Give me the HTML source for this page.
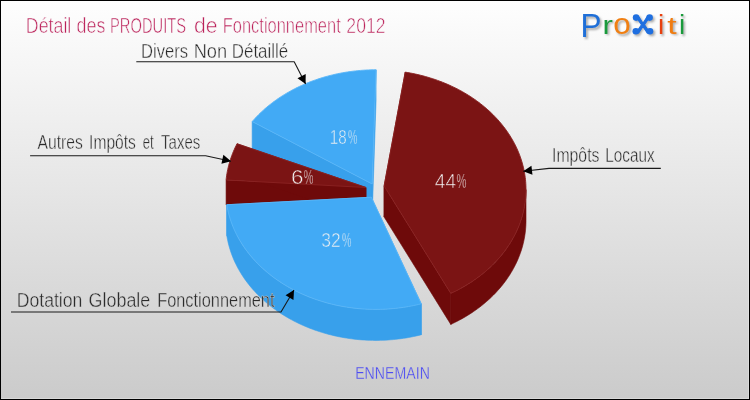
<!DOCTYPE html>
<html><head><meta charset="utf-8"><title>Détail des PRODUITS de Fonctionnement 2012</title>
<style>
html,body{margin:0;padding:0;background:#fff;}
body{width:750px;height:400px;overflow:hidden;}
#chart{position:relative;width:748px;height:398px;border:1px solid #000;background:linear-gradient(to bottom,#fefefe 0%,#cbcbcb 100%);overflow:hidden;box-shadow:inset -1px -1px 0 rgba(255,255,255,.25);}
svg{position:absolute;left:-1px;top:-1px;font-family:"Liberation Sans", sans-serif;}
</style></head><body>
<div id="chart">
<svg width="750" height="400" viewBox="0 0 750 400">
<g id="pie">
<path d="M372.2 184 L252.16 121.57 L252.16 152.57 L372.2 215Z" fill="#38a0eb" stroke="#38a0eb" stroke-width="0.6" stroke-linejoin="round" />
<path d="M372.2 184 L376.06 69.8 L376.06 100.8 L372.2 215Z" fill="#38a0eb" stroke="#38a0eb" stroke-width="0.6" stroke-linejoin="round" />
<path d="M372.2 184 L252.16 121.57 L253.66 119.88 L255.19 118.2 L256.76 116.55 L258.36 114.92 L259.99 113.31 L261.67 111.72 L263.37 110.16 L265.11 108.62 L266.88 107.11 L268.69 105.62 L270.53 104.15 L272.4 102.71 L274.3 101.3 L276.23 99.91 L278.19 98.55 L280.17 97.22 L282.19 95.91 L284.24 94.63 L286.31 93.38 L288.41 92.16 L290.54 90.97 L292.69 89.81 L294.86 88.68 L297.07 87.58 L299.29 86.51 L301.54 85.47 L303.81 84.46 L306.1 83.48 L308.41 82.54 L310.74 81.62 L313.09 80.74 L315.46 79.89 L317.85 79.08 L320.26 78.29 L322.68 77.54 L325.12 76.83 L327.57 76.14 L330.04 75.5 L332.52 74.88 L335.01 74.3 L337.52 73.76 L340.04 73.25 L342.56 72.77 L345.1 72.33 L347.65 71.92 L350.21 71.55 L352.77 71.22 L355.34 70.92 L357.92 70.65 L360.5 70.42 L363.09 70.23 L365.68 70.07 L368.27 69.95 L370.87 69.86 L373.46 69.81 L376.06 69.8Z" fill="#42aaf5" stroke="#5ab7f8" stroke-width="0.9" stroke-linejoin="round" />
<path d="M366 187.5 L226.08 179.99 L226.08 205 L366 218.5Z" fill="#6e0a0a" stroke="#6e0a0a" stroke-width="0.6" stroke-linejoin="round" />
<path d="M366 187.5 L237.03 143.75 L237.03 174.75 L366 218.5Z" fill="#6e0a0a" stroke="#6e0a0a" stroke-width="0.6" stroke-linejoin="round" />
<path d="M366 187.5 L226.08 179.99 L226.32 177.92 L226.59 175.85 L226.91 173.79 L227.28 171.73 L227.69 169.68 L228.15 167.63 L228.65 165.59 L229.19 163.56 L229.78 161.53 L230.41 159.51 L231.09 157.51 L231.81 155.51 L232.57 153.52 L233.38 151.54 L234.23 149.58 L235.12 147.62 L236.06 145.68 L237.03 143.75Z" fill="#7b1414" stroke="#8a2323" stroke-width="0.9" stroke-linejoin="round" />
<path d="M384.1 186 L405.23 72.12 L405.23 103.12 L384.1 217Z" fill="#6e0a0a" stroke="#6e0a0a" stroke-width="0.6" stroke-linejoin="round" />
<path d="M384.1 186 L450.79 293.4 L450.79 324.4 L384.1 217Z" fill="#6e0a0a" stroke="#6e0a0a" stroke-width="0.6" stroke-linejoin="round" />
<path d="M526 189.6 L525.98 191.66 L525.91 193.72 L525.8 195.77 L525.65 197.83 L525.45 199.88 L525.2 201.93 L524.91 203.97 L524.58 206.01 L524.21 208.05 L523.79 210.08 L523.33 212.11 L522.82 214.13 L522.27 216.14 L521.68 218.14 L521.04 220.13 L520.36 222.12 L519.64 224.1 L518.87 226.06 L518.07 228.02 L517.22 229.96 L516.33 231.89 L515.4 233.81 L514.42 235.72 L513.41 237.61 L512.36 239.49 L511.26 241.35 L510.13 243.2 L508.95 245.04 L507.74 246.85 L506.49 248.65 L505.19 250.43 L503.86 252.2 L502.5 253.94 L501.09 255.67 L499.65 257.38 L498.17 259.06 L496.66 260.73 L495.11 262.38 L493.52 264 L491.9 265.6 L490.25 267.18 L488.56 268.74 L486.84 270.27 L485.08 271.78 L483.3 273.27 L481.48 274.73 L479.63 276.17 L477.75 277.58 L475.84 278.96 L473.9 280.32 L471.93 281.65 L469.94 282.95 L467.91 284.23 L465.86 285.48 L463.78 286.7 L461.68 287.89 L459.55 289.05 L457.39 290.18 L455.21 291.29 L453.01 292.36 L450.79 293.4 L450.79 324.4 L453.01 323.36 L455.21 322.29 L457.39 321.18 L459.55 320.05 L461.68 318.89 L463.78 317.7 L465.86 316.48 L467.91 315.23 L469.94 313.95 L471.93 312.65 L473.9 311.32 L475.84 309.96 L477.75 308.58 L479.63 307.17 L481.48 305.73 L483.3 304.27 L485.08 302.78 L486.84 301.27 L488.56 299.74 L490.25 298.18 L491.9 296.6 L493.52 295 L495.11 293.38 L496.66 291.73 L498.17 290.06 L499.65 288.38 L501.09 286.67 L502.5 284.94 L503.86 283.2 L505.19 281.43 L506.49 279.65 L507.74 277.85 L508.95 276.04 L510.13 274.2 L511.26 272.35 L512.36 270.49 L513.41 268.61 L514.42 266.72 L515.4 264.81 L516.33 262.89 L517.22 260.96 L518.07 259.02 L518.87 257.06 L519.64 255.1 L520.36 253.12 L521.04 251.13 L521.68 249.14 L522.27 247.14 L522.82 245.13 L523.33 243.11 L523.79 241.08 L524.21 239.05 L524.58 237.01 L524.91 234.97 L525.2 232.93 L525.45 230.88 L525.65 228.83 L525.8 226.77 L525.91 224.72 L525.98 222.66 L526 220.6Z" fill="#6e0a0a" stroke="#6e0a0a" stroke-width="0.6" stroke-linejoin="round" />
<path d="M384.1 186 L405.23 72.12 L407.79 72.55 L410.34 73.01 L412.89 73.51 L415.42 74.04 L417.93 74.61 L420.44 75.21 L422.93 75.85 L425.41 76.52 L427.87 77.23 L430.32 77.97 L432.75 78.74 L435.16 79.55 L437.55 80.39 L439.93 81.27 L442.29 82.18 L444.62 83.12 L446.94 84.09 L449.23 85.09 L451.5 86.13 L453.75 87.2 L455.98 88.3 L458.18 89.42 L460.35 90.58 L462.5 91.77 L464.63 92.99 L466.72 94.24 L468.79 95.52 L470.83 96.83 L472.84 98.16 L474.83 99.52 L476.78 100.91 L478.7 102.33 L480.59 103.77 L482.45 105.24 L484.28 106.74 L486.07 108.26 L487.83 109.8 L489.55 111.37 L491.25 112.96 L492.9 114.58 L494.52 116.22 L496.11 117.88 L497.66 119.56 L499.17 121.26 L500.64 122.99 L502.08 124.73 L503.48 126.5 L504.83 128.28 L506.15 130.08 L507.43 131.9 L508.67 133.74 L509.87 135.6 L511.03 137.47 L512.15 139.36 L513.23 141.26 L514.26 143.17 L515.26 145.11 L516.21 147.05 L517.11 149.01 L517.98 150.98 L518.8 152.96 L519.58 154.95 L520.32 156.95 L521.01 158.97 L521.65 160.99 L522.26 163.02 L522.81 165.06 L523.33 167.11 L523.8 169.16 L524.22 171.22 L524.6 173.28 L524.93 175.35 L525.22 177.43 L525.47 179.51 L525.66 181.59 L525.82 183.67 L525.92 185.76 L525.98 187.84 L526 189.93 L525.97 192.02 L525.89 194.1 L525.77 196.19 L525.61 198.27 L525.39 200.35 L525.14 202.43 L524.83 204.5 L524.49 206.57 L524.09 208.63 L523.65 210.69 L523.17 212.74 L522.64 214.79 L522.07 216.82 L521.45 218.85 L520.79 220.87 L520.09 222.88 L519.34 224.88 L518.55 226.87 L517.71 228.85 L516.83 230.81 L515.91 232.77 L514.95 234.71 L513.94 236.63 L512.89 238.55 L511.8 240.44 L510.67 242.33 L509.5 244.19 L508.29 246.04 L507.03 247.87 L505.74 249.69 L504.41 251.48 L503.04 253.26 L501.63 255.02 L500.18 256.76 L498.69 258.48 L497.17 260.17 L495.61 261.85 L494.01 263.5 L492.38 265.14 L490.71 266.74 L489.01 268.33 L487.28 269.89 L485.51 271.43 L483.7 272.94 L481.86 274.43 L480 275.89 L478.1 277.32 L476.16 278.73 L474.2 280.11 L472.21 281.46 L470.19 282.79 L468.14 284.09 L466.06 285.36 L463.96 286.59 L461.82 287.81 L459.67 288.99 L457.48 290.14 L455.27 291.26 L453.04 292.34 L450.79 293.4Z" fill="#7b1414" stroke="#8a2323" stroke-width="0.9" stroke-linejoin="round" />
<path d="M371.3 197.2 L421.22 303.79 L421.22 334.79 L371.3 228.2Z" fill="#38a0eb" stroke="#38a0eb" stroke-width="0.6" stroke-linejoin="round" />
<path d="M371.3 197.2 L226.8 204.72 L226.8 235.72 L371.3 228.2Z" fill="#38a0eb" stroke="#38a0eb" stroke-width="0.6" stroke-linejoin="round" />
<path d="M421.22 303.79 L418.73 304.4 L416.22 304.98 L413.71 305.52 L411.18 306.03 L408.65 306.5 L406.1 306.94 L403.55 307.34 L400.98 307.7 L398.41 308.03 L395.83 308.33 L393.25 308.59 L390.66 308.81 L388.06 309 L385.47 309.15 L382.87 309.27 L380.26 309.35 L377.66 309.39 L375.06 309.4 L372.45 309.37 L369.85 309.31 L367.25 309.21 L364.65 309.07 L362.05 308.9 L359.46 308.69 L356.87 308.45 L354.29 308.17 L351.72 307.85 L349.15 307.5 L346.59 307.11 L344.04 306.69 L341.5 306.23 L338.97 305.74 L336.45 305.22 L333.94 304.65 L331.45 304.06 L328.97 303.43 L326.5 302.76 L324.05 302.06 L321.61 301.33 L319.19 300.56 L316.78 299.76 L314.4 298.93 L312.03 298.07 L309.68 297.17 L307.35 296.24 L305.04 295.27 L302.76 294.28 L300.49 293.25 L298.25 292.2 L296.03 291.11 L293.84 289.99 L291.67 288.84 L289.52 287.66 L287.4 286.46 L285.31 285.22 L283.25 283.95 L281.21 282.66 L279.2 281.34 L277.22 279.99 L275.27 278.61 L273.35 277.21 L271.46 275.78 L269.6 274.32 L267.78 272.84 L265.98 271.33 L264.22 269.8 L262.5 268.25 L260.8 266.67 L259.15 265.06 L257.52 263.44 L255.93 261.79 L254.38 260.12 L252.87 258.43 L251.39 256.72 L249.95 254.99 L248.55 253.24 L247.18 251.47 L245.86 249.68 L244.57 247.88 L243.32 246.05 L242.12 244.21 L240.95 242.36 L239.82 240.48 L238.74 238.6 L237.69 236.69 L236.69 234.78 L235.73 232.84 L234.81 230.9 L233.93 228.94 L233.1 226.98 L232.31 225 L231.56 223.01 L230.85 221.01 L230.19 219 L229.58 216.98 L229 214.95 L228.47 212.92 L227.99 210.88 L227.55 208.83 L227.15 206.78 L226.8 204.72 L226.8 235.72 L227.15 237.78 L227.55 239.83 L227.99 241.88 L228.47 243.92 L229 245.95 L229.58 247.98 L230.19 250 L230.85 252.01 L231.56 254.01 L232.31 256 L233.1 257.98 L233.93 259.94 L234.81 261.9 L235.73 263.84 L236.69 265.78 L237.69 267.69 L238.74 269.6 L239.82 271.48 L240.95 273.36 L242.12 275.21 L243.32 277.05 L244.57 278.88 L245.86 280.68 L247.18 282.47 L248.55 284.24 L249.95 285.99 L251.39 287.72 L252.87 289.43 L254.38 291.12 L255.93 292.79 L257.52 294.44 L259.15 296.06 L260.8 297.67 L262.5 299.25 L264.22 300.8 L265.98 302.33 L267.78 303.84 L269.6 305.32 L271.46 306.78 L273.35 308.21 L275.27 309.61 L277.22 310.99 L279.2 312.34 L281.21 313.66 L283.25 314.95 L285.31 316.22 L287.4 317.46 L289.52 318.66 L291.67 319.84 L293.84 320.99 L296.03 322.11 L298.25 323.2 L300.49 324.25 L302.76 325.28 L305.04 326.27 L307.35 327.24 L309.68 328.17 L312.03 329.07 L314.4 329.93 L316.78 330.76 L319.19 331.56 L321.61 332.33 L324.05 333.06 L326.5 333.76 L328.97 334.43 L331.45 335.06 L333.94 335.65 L336.45 336.22 L338.97 336.74 L341.5 337.23 L344.04 337.69 L346.59 338.11 L349.15 338.5 L351.72 338.85 L354.29 339.17 L356.87 339.45 L359.46 339.69 L362.05 339.9 L364.65 340.07 L367.25 340.21 L369.85 340.31 L372.45 340.37 L375.06 340.4 L377.66 340.39 L380.26 340.35 L382.87 340.27 L385.47 340.15 L388.06 340 L390.66 339.81 L393.25 339.59 L395.83 339.33 L398.41 339.03 L400.98 338.7 L403.55 338.34 L406.1 337.94 L408.65 337.5 L411.18 337.03 L413.71 336.52 L416.22 335.98 L418.73 335.4 L421.22 334.79Z" fill="#38a0eb" stroke="#38a0eb" stroke-width="0.6" stroke-linejoin="round" />
<path d="M371.3 197.2 L421.22 303.79 L418.73 304.4 L416.22 304.98 L413.71 305.52 L411.18 306.03 L408.65 306.5 L406.1 306.94 L403.55 307.34 L400.98 307.7 L398.41 308.03 L395.83 308.33 L393.25 308.59 L390.66 308.81 L388.06 309 L385.47 309.15 L382.87 309.27 L380.26 309.35 L377.66 309.39 L375.06 309.4 L372.45 309.37 L369.85 309.31 L367.25 309.21 L364.65 309.07 L362.05 308.9 L359.46 308.69 L356.87 308.45 L354.29 308.17 L351.72 307.85 L349.15 307.5 L346.59 307.11 L344.04 306.69 L341.5 306.23 L338.97 305.74 L336.45 305.22 L333.94 304.65 L331.45 304.06 L328.97 303.43 L326.5 302.76 L324.05 302.06 L321.61 301.33 L319.19 300.56 L316.78 299.76 L314.4 298.93 L312.03 298.07 L309.68 297.17 L307.35 296.24 L305.04 295.27 L302.76 294.28 L300.49 293.25 L298.25 292.2 L296.03 291.11 L293.84 289.99 L291.67 288.84 L289.52 287.66 L287.4 286.46 L285.31 285.22 L283.25 283.95 L281.21 282.66 L279.2 281.34 L277.22 279.99 L275.27 278.61 L273.35 277.21 L271.46 275.78 L269.6 274.32 L267.78 272.84 L265.98 271.33 L264.22 269.8 L262.5 268.25 L260.8 266.67 L259.15 265.06 L257.52 263.44 L255.93 261.79 L254.38 260.12 L252.87 258.43 L251.39 256.72 L249.95 254.99 L248.55 253.24 L247.18 251.47 L245.86 249.68 L244.57 247.88 L243.32 246.05 L242.12 244.21 L240.95 242.36 L239.82 240.48 L238.74 238.6 L237.69 236.69 L236.69 234.78 L235.73 232.84 L234.81 230.9 L233.93 228.94 L233.1 226.98 L232.31 225 L231.56 223.01 L230.85 221.01 L230.19 219 L229.58 216.98 L229 214.95 L228.47 212.92 L227.99 210.88 L227.55 208.83 L227.15 206.78 L226.8 204.72Z" fill="#42aaf5" stroke="#5ab7f8" stroke-width="0.9" stroke-linejoin="round" />
</g>
<g id="labels" opacity="0.999">
<text y="32.8" font-size="21.3" fill="#bb2059" stroke="#fafafa" stroke-width="0.6"><tspan x="25.87" textLength="45.45" lengthAdjust="spacingAndGlyphs">Détail</tspan> <tspan x="76.5" textLength="28.84" lengthAdjust="spacingAndGlyphs">des</tspan> <tspan x="110.01" textLength="76.03" lengthAdjust="spacingAndGlyphs">PRODUITS</tspan> <tspan x="193.9" textLength="23.54" lengthAdjust="spacingAndGlyphs">de</tspan> <tspan x="222.73" textLength="118.01" lengthAdjust="spacingAndGlyphs">Fonctionnement</tspan> <tspan x="346.37" textLength="39.12" lengthAdjust="spacingAndGlyphs">2012</tspan></text>
<text y="57.8" font-size="19.6" fill="#2b2b2b" stroke="#f7f7f7" stroke-width="0.4"><tspan x="141.05" textLength="47.08" lengthAdjust="spacingAndGlyphs">Divers</tspan> <tspan x="193.67" textLength="33.47" lengthAdjust="spacingAndGlyphs">Non</tspan> <tspan x="231.74" textLength="56.48" lengthAdjust="spacingAndGlyphs">Détaillé</tspan></text>
<path d="M136.3 61.7 L294.2 61.7 L305.6 84" stroke="#1a1a1a" stroke-width="1.1" fill="none" stroke-linejoin="round"/>
<polygon points="305.6,84 297.5,78.26 305.69,74.07" fill="#000"/>
<text y="148.9" font-size="19.6" fill="#2b2b2b" stroke="#ebebeb" stroke-width="0.4"><tspan x="37.5" textLength="45.24" lengthAdjust="spacingAndGlyphs">Autres</tspan> <tspan x="89.11" textLength="46.73" lengthAdjust="spacingAndGlyphs">Impôts</tspan> <tspan x="142.7" textLength="10.93" lengthAdjust="spacingAndGlyphs">et</tspan> <tspan x="161.1" textLength="39.14" lengthAdjust="spacingAndGlyphs">Taxes</tspan></text>
<path d="M30.1 155.7 L205.6 155.7 L231 161.2" stroke="#1a1a1a" stroke-width="1.1" fill="none" stroke-linejoin="round"/>
<polygon points="231,161.2 221.43,163.83 223.37,154.84" fill="#000"/>
<text y="161.8" font-size="19.6" fill="#2b2b2b" stroke="#e9e9e9" stroke-width="0.4"><tspan x="552.09" textLength="47.34" lengthAdjust="spacingAndGlyphs">Impôts</tspan> <tspan x="605.22" textLength="49.32" lengthAdjust="spacingAndGlyphs">Locaux</tspan></text>
<path d="M660.8 168.4 L549 168.4 L523.2 171.2" stroke="#1a1a1a" stroke-width="1.1" fill="none" stroke-linejoin="round"/>
<polygon points="523.2,171.2 531.45,165.68 532.44,174.82" fill="#000"/>
<text y="307.2" font-size="19.6" fill="#2b2b2b" stroke="#d7d7d7" stroke-width="0.4"><tspan x="16.7" textLength="65.71" lengthAdjust="spacingAndGlyphs">Dotation</tspan> <tspan x="88.6" textLength="61.71" lengthAdjust="spacingAndGlyphs">Globale</tspan> <tspan x="157.16" textLength="117.37" lengthAdjust="spacingAndGlyphs">Fonctionnement</tspan></text>
<path d="M11 312 L281 312 L294 290" stroke="#1a1a1a" stroke-width="1.1" fill="none" stroke-linejoin="round"/>
<polygon points="294,290 293.48,299.92 285.56,295.24" fill="#000"/>
<text y="144.1" font-size="20.8" fill="#f2f2f2" stroke="#42aaf5" stroke-width="0.55"><tspan x="329.77" textLength="16.95" lengthAdjust="spacingAndGlyphs">18</tspan><tspan x="348" textLength="9.45" lengthAdjust="spacingAndGlyphs">%</tspan></text>
<text y="188.2" font-size="20.8" fill="#f2f2f2" stroke="#7b1414" stroke-width="0.55"><tspan x="434.8" textLength="21.32" lengthAdjust="spacingAndGlyphs">44</tspan><tspan x="456.5" textLength="9.97" lengthAdjust="spacingAndGlyphs">%</tspan></text>
<text y="183.5" font-size="20.8" fill="#f2f2f2" stroke="#7b1414" stroke-width="0.55"><tspan x="291.12" textLength="12.49" lengthAdjust="spacingAndGlyphs">6</tspan><tspan x="303.8" textLength="9.66" lengthAdjust="spacingAndGlyphs">%</tspan></text>
<text y="247" font-size="20.8" fill="#f2f2f2" stroke="#42aaf5" stroke-width="0.55"><tspan x="321.2" textLength="19.48" lengthAdjust="spacingAndGlyphs">32</tspan><tspan x="342" textLength="9.45" lengthAdjust="spacingAndGlyphs">%</tspan></text>
<text y="379" font-size="17" fill="#4d4df2" stroke="#cecece" stroke-width="0.3"><tspan x="355.17" textLength="74.7" lengthAdjust="spacingAndGlyphs">ENNEMAIN</tspan></text>
</g>
<defs><filter id="lblur" x="-10%" y="-30%" width="120%" height="160%"><feGaussianBlur stdDeviation="0.9"/></filter></defs>
<g id="logo" opacity="0.999" font-family='"Liberation Sans", sans-serif' stroke-linejoin="round" stroke-linecap="round">
<g transform="translate(1.7,1.7)" filter="url(#lblur)" opacity="0.5" fill="#5a5a5a" aria-hidden="true">
<text><tspan x="580.5" y="37.3" font-size="34" text-anchor="start" textLength="21" lengthAdjust="spacingAndGlyphs">P</tspan><tspan x="602.6" y="33.6" font-size="25.5" text-anchor="start" textLength="10.4" lengthAdjust="spacingAndGlyphs">r</tspan><tspan x="613.2" y="34.4" font-size="29" text-anchor="start" textLength="17.5" lengthAdjust="spacingAndGlyphs">o</tspan><tspan x="643" y="32.6" font-size="30" text-anchor="middle" >x</tspan><tspan x="661" y="34" font-size="28" text-anchor="middle" >i</tspan><tspan x="672" y="33.8" font-size="24" text-anchor="middle" textLength="9.4" lengthAdjust="spacingAndGlyphs">t</tspan><tspan x="682" y="34" font-size="28" text-anchor="middle" >i</tspan></text>
<circle cx="636.1" cy="17.6" r="3.3"/>
<circle cx="649.6" cy="17.6" r="3.3"/>
<circle cx="635.8" cy="31.2" r="3.3"/>
<circle cx="650" cy="31.2" r="3.3"/>
</g>
<text><tspan x="580.5" y="37.3" font-size="34" text-anchor="start" fill="#1f6fd8" textLength="21" lengthAdjust="spacingAndGlyphs">P</tspan><tspan x="602.6" y="33.6" font-size="25.5" text-anchor="start" fill="#1a9a3c" textLength="10.4" lengthAdjust="spacingAndGlyphs">r</tspan><tspan x="613.2" y="34.4" font-size="29" text-anchor="start" fill="#f07f12" textLength="17.5" lengthAdjust="spacingAndGlyphs">o</tspan><tspan x="643" y="32.6" font-size="30" text-anchor="middle" fill="#1f6fe0" stroke="#1f6fe0" stroke-width="1.1" >x</tspan><tspan x="661" y="34" font-size="28" text-anchor="middle" fill="#e8400e" >i</tspan><tspan x="672" y="33.8" font-size="24" text-anchor="middle" fill="#f07c10" textLength="9.4" lengthAdjust="spacingAndGlyphs">t</tspan><tspan x="682" y="34" font-size="28" text-anchor="middle" fill="#1a9a3c" >i</tspan></text>
<g fill="#1f6fe0"><circle cx="636.1" cy="17.6" r="3.3"/><circle cx="649.6" cy="17.6" r="3.3"/><circle cx="635.8" cy="31.2" r="3.3"/><circle cx="650" cy="31.2" r="3.3"/></g>
</g>
</svg>
</div>
</body></html>
